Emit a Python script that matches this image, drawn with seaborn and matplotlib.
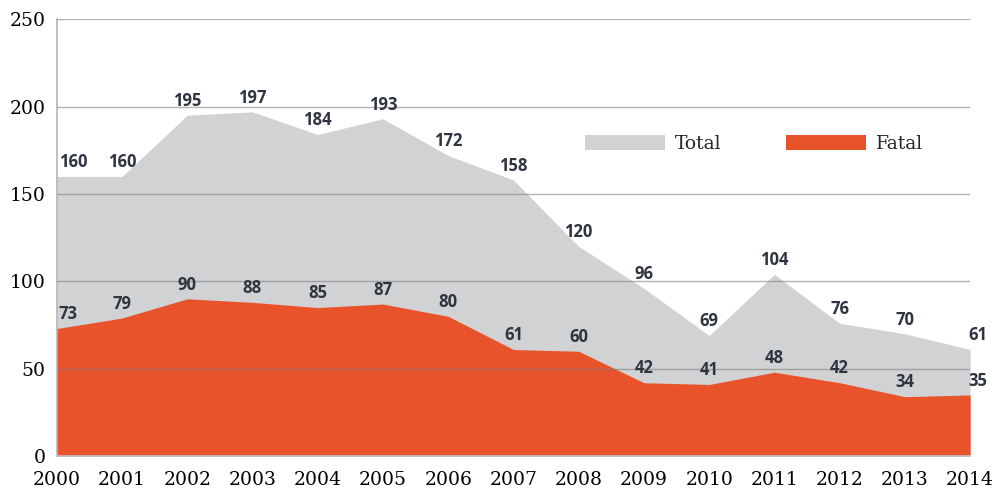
import seaborn as sns
import matplotlib.pyplot as plt
from matplotlib.patches import Patch

# data
years = [2000, 2001, 2002, 2003, 2004, 2005, 2006, 2007, 2008, 2009, 2010, 2011, 2012, 2013, 2014]
total = [160, 160, 195, 197, 184, 193, 172, 158, 120, 96, 69, 104, 76, 70, 61]
fatal = [73, 79, 90, 88, 85, 87, 80, 61, 60, 42, 41, 48, 42, 34, 35]
series_names = ['Total', 'Fatal']
y_ticks = [0, 50, 100, 150, 200, 250]

gray = '#d1d2d4'
orange = '#e9532b'
label_color = '#2f3540'

sns.set_theme(style='white')
plt.rcParams['font.family'] = ['DejaVu Serif']

fig = plt.figure(figsize=(9.95, 4.91), dpi=100)
ax = fig.add_axes([0.057, 0.071, 0.918, 0.89])

ax.fill_between(years, total, color=gray, linewidth=0, zorder=1)
ax.fill_between(years, fatal, color=orange, linewidth=0, zorder=1.5)

# value labels above each point
for i, (yr, t, f) in enumerate(zip(years, total, fatal)):
    if i == 0:
        ha, dx = 'left', 0.03
    elif i == len(years) - 1:
        ha, dx = 'left', -0.02
    else:
        ha, dx = 'center', 0.0
    for v in (t, f):
        ax.text(yr + dx, v + 3, str(v), ha=ha, va='bottom', fontsize=12,
                fontweight='bold', color=label_color, family=['Open Sans', 'DejaVu Sans'],
                zorder=4)

ax.set_xlim(2000, 2014)
ax.set_ylim(0, 250)
ax.set_xticks(years)
ax.set_xticklabels([str(y) for y in years])
ax.set_yticks(y_ticks)
ax.tick_params(axis='x', labelsize=13.5, pad=11, length=0, colors='black')
ax.tick_params(axis='y', labelsize=13.5, pad=8, length=0, colors='black')

ax.grid(axis='y', color='#808080', alpha=0.6, linewidth=1.0)
ax.set_axisbelow(False)
for s in ['top', 'right']:
    ax.spines[s].set_visible(False)
ax.spines['left'].set_color('#b5b5b5')
ax.spines['bottom'].set_color('#c8c8c8')
ax.spines['left'].set_linewidth(1.2)

handles = [Patch(facecolor=gray, edgecolor='none'), Patch(facecolor=orange, edgecolor='none')]
ax.legend(handles, series_names, loc='center left', bbox_to_anchor=(585 / 995, 1 - 144 / 491),
          bbox_transform=fig.transFigure, ncol=2, frameon=False, fontsize=13.5,
          borderpad=0, borderaxespad=0, handlelength=4.27, handleheight=0.9,
          handletextpad=0.55, columnspacing=3.4)

fig.savefig('out.png', dpi=100)
